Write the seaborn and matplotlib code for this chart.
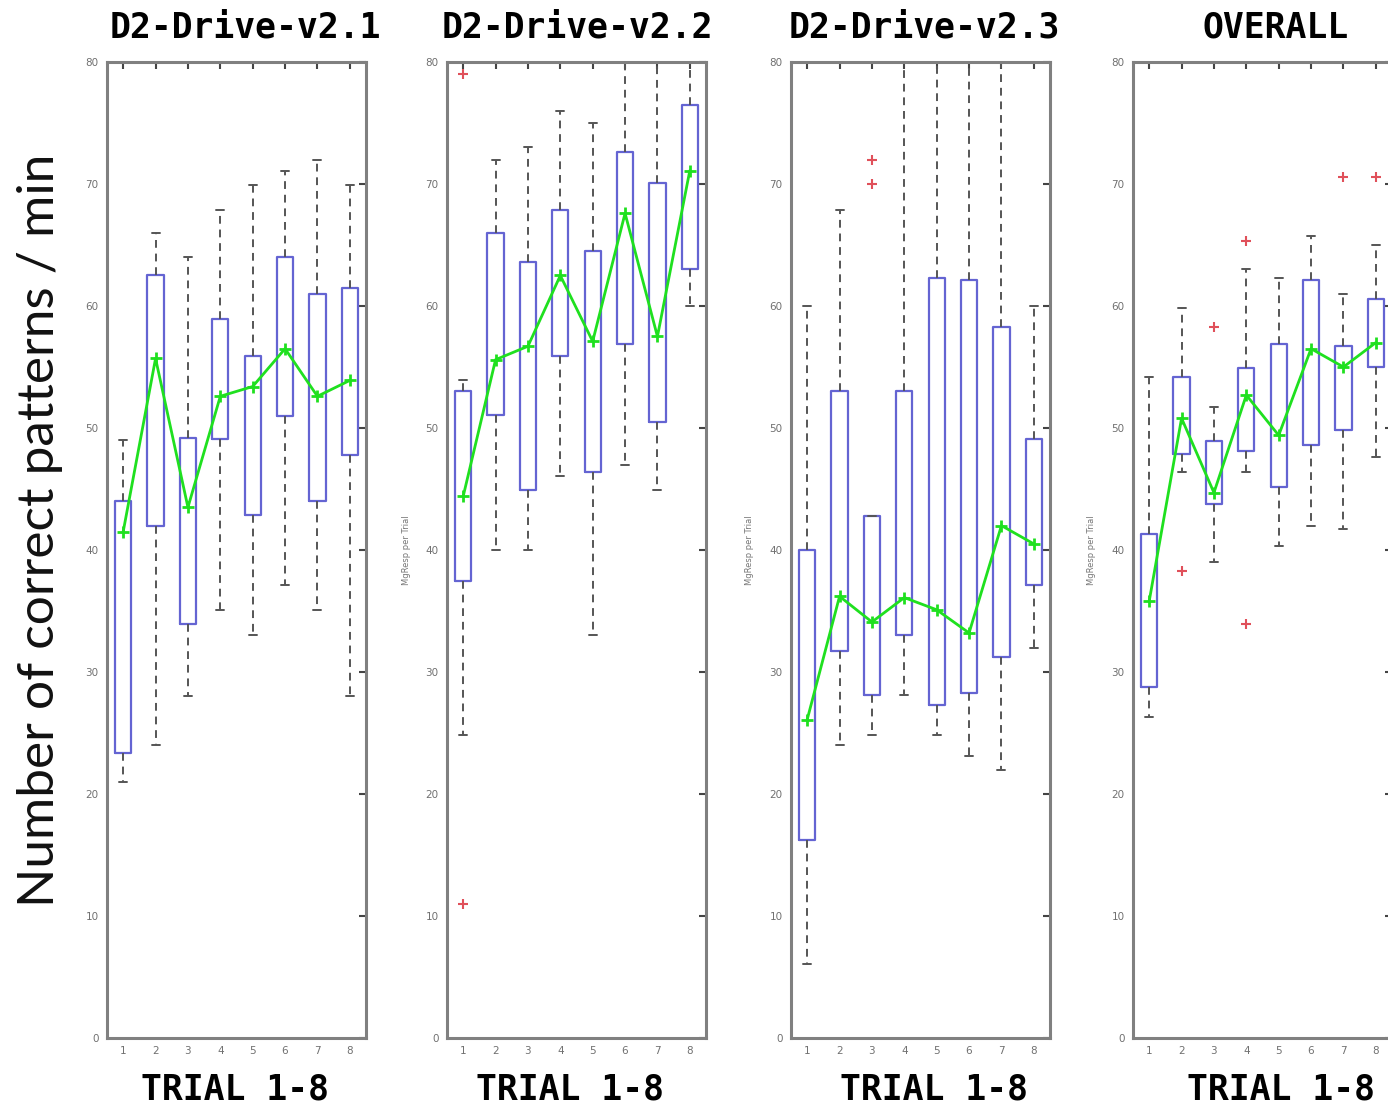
import numpy as np
import matplotlib
matplotlib.use("Agg")
import matplotlib.pyplot as plt
import seaborn as sns

# ---------------- data ----------------
trials = [1, 2, 3, 4, 5, 6, 7, 8]
titles = ["D2-Drive-v2.1", "D2-Drive-v2.2", "D2-Drive-v2.3", "OVERALL"]

p1_q1 = [23.4, 42.0, 33.9, 49.1, 42.9, 51.0, 44.0, 47.8]
p1_q3 = [44.0, 62.5, 49.2, 58.9, 55.9, 64.0, 61.0, 61.5]
p1_wlo = [21.0, 24.0, 28.0, 35.1, 33.0, 37.1, 35.1, 28.0]
p1_whi = [49.0, 66.0, 64.0, 67.9, 69.9, 71.1, 72.0, 69.9]
p1_line = [41.5, 55.7, 43.5, 52.6, 53.4, 56.5, 52.6, 53.9]
p1_out = [[], [], [], [], [], [], [], []]

p2_q1 = [37.5, 51.1, 44.9, 55.9, 46.4, 56.9, 50.5, 63.0]
p2_q3 = [53.0, 66.0, 63.6, 67.9, 64.5, 72.6, 70.1, 76.5]
p2_wlo = [24.8, 40.0, 40.0, 46.1, 33.0, 47.0, 44.9, 60.0]
p2_whi = [53.9, 72.0, 73.0, 76.0, 75.0, 80.0, 80.0, 80.0]
p2_line = [44.4, 55.6, 56.7, 62.5, 57.1, 67.6, 57.5, 71.1]
p2_out = [[79.0, 11.0], [], [], [], [], [], [], []]

p3_q1 = [16.2, 31.7, 28.1, 33.0, 27.3, 28.3, 31.2, 37.1]
p3_q3 = [40.0, 53.0, 42.8, 53.0, 62.3, 62.1, 58.3, 49.1]
p3_wlo = [6.1, 24.0, 24.8, 28.1, 24.8, 23.1, 22.0, 32.0]
p3_whi = [60.0, 67.9, 42.8, 80.0, 80.0, 80.0, 80.0, 60.0]
p3_line = [26.1, 36.2, 34.1, 36.1, 35.1, 33.2, 42.0, 40.5]
p3_out = [[], [], [72.0, 70.0], [], [], [], [], []]

p4_q1 = [28.8, 47.9, 43.8, 48.1, 45.2, 48.6, 49.8, 55.0]
p4_q3 = [41.3, 54.2, 48.9, 54.9, 56.9, 62.1, 56.7, 60.6]
p4_wlo = [26.3, 46.4, 39.0, 46.4, 40.3, 42.0, 41.7, 47.6]
p4_whi = [54.2, 59.8, 51.7, 63.0, 62.3, 65.7, 61.0, 65.0]
p4_line = [35.8, 50.8, 44.7, 52.7, 49.4, 56.5, 55.0, 57.0]
p4_out = [[], [38.3], [58.3], [65.3, 33.9], [], [], [70.6], [70.6]]

yticks = [0, 10, 20, 30, 40, 50, 60, 70, 80]
ylabel_main = "Number of correct patterns / min"
ylabel_small = "MgResp per Trial"
xlabel = "TRIAL 1-8"

panels = [
    (p1_q1, p1_q3, p1_wlo, p1_whi, p1_line, p1_out),
    (p2_q1, p2_q3, p2_wlo, p2_whi, p2_line, p2_out),
    (p3_q1, p3_q3, p3_wlo, p3_whi, p3_line, p3_out),
    (p4_q1, p4_q3, p4_wlo, p4_whi, p4_line, p4_out),
]

# ---------------- style ----------------
sns.set_style("white")
plt.rcParams["font.family"] = ["DejaVu Sans"]

W, H = 1388, 1109
fig = plt.figure(figsize=(W / 100, H / 100), dpi=100)

ax_left_px = [107, 447, 791, 1133]
ax_w_px = 259
ax_top_px, ax_bot_px = 62, 1038
title_cx = [245, 577, 924, 1276]
xlab_cx = [235, 570, 934, 1281]
small_ylab_x = [None, 406, 749, 1091]

box_color = "#6464d2"
whisk_color = "#555555"
green = "#1fe01f"

for i, (q1, q3, wlo, whi, line, outs) in enumerate(panels):
    ax = fig.add_axes([ax_left_px[i] / W, 1 - ax_bot_px / H,
                       ax_w_px / W, (ax_bot_px - ax_top_px) / H])
    stats = []
    for k in range(len(trials)):
        stats.append(dict(q1=q1[k], q3=q3[k], med=(q1[k] + q3[k]) / 2,
                          whislo=wlo[k], whishi=whi[k], fliers=outs[k]))
    ax.bxp(stats, positions=trials, widths=0.5, capwidths=0.25,
           showfliers=True, patch_artist=False,
           boxprops=dict(color=box_color, linewidth=1.6),
           whiskerprops=dict(color=whisk_color, linewidth=1.4, linestyle=(0, (4, 3))),
           capprops=dict(color=whisk_color, linewidth=1.4),
           medianprops=dict(linewidth=0),
           flierprops=dict(marker="+", markeredgecolor="#e0505a",
                           markersize=7, markeredgewidth=1.5, linestyle="none"))
    sns.lineplot(x=trials, y=line, ax=ax, color=green, linewidth=2,
                 marker="+", markersize=9, markeredgewidth=2,
                 markeredgecolor=green)
    ax.set_xlim(0.5, 8.5)
    ax.set_ylim(0, 80)
    ax.set_yticks(yticks)
    ax.set_xticks(trials)
    ax.set_xticklabels([str(t) for t in trials])
    ax.tick_params(direction="in", top=True, right=True, length=5, width=1.5,
                   color="#444444", labelsize=7.5, labelcolor="#707070", pad=6)
    for sp in ax.spines.values():
        sp.set_color("#808080")
        sp.set_linewidth(2.2)
    ax.set_xlabel("")
    ax.set_ylabel("")
    ax.grid(False)

    fig.text(title_cx[i] / W, 1 - 28 / H, titles[i], ha="center", va="center",
             fontsize=25, fontweight="bold", family="DejaVu Sans Mono", color="black")
    fig.text(xlab_cx[i] / W, 1 - 1090 / H, xlabel, ha="center", va="center",
             fontsize=25, fontweight="bold", family="DejaVu Sans Mono", color="black")
    if small_ylab_x[i] is not None:
        fig.text(small_ylab_x[i] / W, 1 - 550 / H, ylabel_small, rotation=90,
                 ha="center", va="center", fontsize=6, color="#777777")

fig.text(40 / W, 1 - 530 / H, ylabel_main, rotation=90, ha="center", va="center",
         fontsize=37, color="#111111", fontweight="normal", family="Lato")

fig.savefig("out.png", dpi=100)
